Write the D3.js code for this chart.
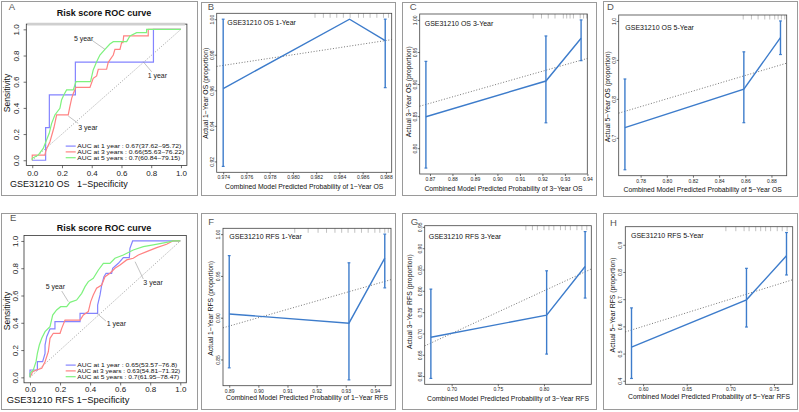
<!DOCTYPE html>
<html><head><meta charset="utf-8">
<script src="https://cdn.jsdelivr.net/npm/d3@7"></script>
<style>
body{margin:0;background:#fff}
svg{display:block}
text{font-family:"Liberation Sans",Arial,Helvetica,sans-serif}
</style></head>
<body><svg id="chart" width="799" height="412"></svg>
<script>
// ================= DATA =================
// ROC curves (1-specificity, sensitivity)
const rocOS_1yr = [[0,0],[0.09,0],[0.09,0.25],[0.115,0.25],[0.115,0.5],[0.29,0.5],[0.29,0.75],[0.815,0.75],[0.815,1],[1,1]];
const rocOS_3yr = [[0,0],[0,0.04],[0.085,0.04],[0.09,0.066],[0.103,0.104],[0.119,0.142],[0.146,0.25],[0.164,0.346],[0.242,0.346],[0.253,0.41],[0.265,0.473],[0.276,0.51],[0.294,0.557],[0.388,0.557],[0.41,0.626],[0.433,0.644],[0.444,0.695],[0.5,0.695],[0.511,0.748],[0.545,0.804],[0.556,0.847],[0.59,0.847],[0.601,0.898],[0.61,0.898],[0.615,0.95],[0.78,0.95],[0.78,1],[1,1]];
const rocOS_5yr = [[0,0],[0,0.015],[0.04,0.04],[0.074,0.09],[0.096,0.155],[0.114,0.206],[0.13,0.28],[0.152,0.346],[0.186,0.397],[0.197,0.46],[0.213,0.5],[0.231,0.537],[0.276,0.537],[0.294,0.6],[0.392,0.6],[0.41,0.69],[0.433,0.753],[0.455,0.804],[0.489,0.847],[0.522,0.888],[0.545,0.906],[0.635,0.906],[0.657,0.95],[0.702,0.975],[0.769,0.975],[0.769,1],[1,1]];
const rocRFS_1yr = [[0,0],[0,0.054],[0.049,0.054],[0.049,0.115],[0.084,0.115],[0.1,0.176],[0.1,0.237],[0.111,0.298],[0.133,0.355],[0.166,0.355],[0.166,0.408],[0.333,0.408],[0.333,0.469],[0.45,0.469],[0.45,0.53],[0.466,0.604],[0.477,0.677],[0.492,0.738],[0.506,0.763],[0.543,0.763],[0.55,0.8],[0.588,0.836],[0.621,0.878],[0.661,0.878],[0.665,0.946],[0.683,1],[1,1]];
const rocRFS_3yr = [[0,0],[0.018,0.042],[0.044,0.054],[0.078,0.066],[0.1,0.115],[0.122,0.188],[0.133,0.286],[0.155,0.323],[0.2,0.323],[0.211,0.359],[0.233,0.42],[0.333,0.42],[0.355,0.457],[0.388,0.482],[0.404,0.555],[0.421,0.604],[0.443,0.653],[0.477,0.677],[0.499,0.738],[0.532,0.763],[0.565,0.8],[0.599,0.824],[0.643,0.861],[0.687,0.873],[0.721,0.897],[0.776,0.922],[0.843,0.951],[0.909,0.976],[0.95,1],[1,1]];
const rocRFS_5yr = [[0,0],[0,0.03],[0.022,0.054],[0.04,0.115],[0.049,0.176],[0.062,0.237],[0.078,0.286],[0.1,0.335],[0.133,0.372],[0.151,0.457],[0.177,0.494],[0.204,0.518],[0.244,0.518],[0.266,0.55],[0.31,0.567],[0.344,0.616],[0.366,0.665],[0.388,0.702],[0.421,0.726],[0.455,0.787],[0.488,0.836],[0.532,0.836],[0.565,0.873],[0.621,0.897],[0.687,0.934],[0.754,0.958],[0.82,0.971],[0.909,0.99],[0.953,1],[1,1]];
const aucOS  = ["AUC at 1 year : 0.67(37.62\u221295.72)", "AUC at 3 years : 0.66(55.63\u221276.22)", "AUC at 5 years : 0.7(60.84\u221279.15)"];
const aucRFS = ["AUC at 1 year : 0.65(53.57\u221276.8)", "AUC at 3 years : 0.63(54.81\u221271.32)", "AUC at 5 years : 0.7(61.95\u221278.47)"];
const rocTicks = ["0.0","0.2","0.4","0.6","0.8","1.0"];
const yearNames = ["1 year","3 year","5 year"];

// Calibration: predicted, observed, lower CI, upper CI, rug of predictions
const calOS1_pred = [0.974, 0.98487, 0.98794];
const calOS1_obs  = [0.961, 1.0, 0.9879];
const calOS1_lo   = [0.9172, 1.0, 0.9615];
const calOS1_hi   = [1.0, 1.0, 1.0];
const calOS1_rug  = [0.9819,0.98262,0.9832,0.98377,0.98434,0.98492,0.98564,0.98607,0.98664,0.98722,0.98779,0.98822];
const calOS1_xt = ["0.974","0.976","0.978","0.980","0.982","0.984","0.986","0.988"];
const calOS1_yt = ["0.92","0.94","0.96","0.98","1.00"];

const calOS3_pred = [0.8682, 0.92156, 0.9372];
const calOS3_obs  = [0.849, 0.9047, 0.9714];
const calOS3_lo   = [0.769, 0.8396, 0.9365];
const calOS3_hi   = [0.9354, 0.975, 1.0];
const calOS3_rug  = [0.9159,0.9196,0.9226,0.9256,0.9293,0.9308,0.9323,0.9338,0.9368,0.9383,0.9397];
const calOS3_xt = ["0.87","0.88","0.89","0.90","0.91","0.92","0.93","0.94"];
const calOS3_yt = ["0.80","0.85","0.90","0.95","1.00"];

const calOS5_pred = [0.768, 0.8589, 0.8869];
const calOS5_obs  = [0.726, 0.825, 0.957];
const calOS5_lo   = [0.618, 0.7388, 0.9138];
const calOS5_hi   = [0.851, 0.9207, 1.0];
const calOS5_rug  = [0.8584,0.8647,0.8698,0.8749,0.8787,0.8825,0.8851,0.8876,0.8902];
const calOS5_xt = ["0.78","0.80","0.82","0.84","0.86","0.88"];
const calOS5_yt = ["0.7","0.8","0.9","1.0"];

const calRFS1_pred = [0.89, 0.9311, 0.9434];
const calRFS1_obs  = [0.9045, 0.8934, 0.9712];
const calRFS1_lo   = [0.840, 0.8256, 0.9357];
const calRFS1_hi   = [0.9743, 0.9657, 1.0];
const calRFS1_rug  = [0.9125,0.9171,0.9205,0.9234,0.9263,0.9286,0.9308,0.9331,0.9354,0.9377,0.94,0.9417,0.9434,0.9446];
const calRFS1_xt = ["0.89","0.90","0.91","0.92","0.93","0.94"];
const calRFS1_yt = ["0.85","0.90","0.95","1.00"];

const calRFS3_pred = [0.6775, 0.8029, 0.8446];
const calRFS3_obs  = [0.691, 0.743, 0.857];
const calRFS3_lo   = [0.5945, 0.6516, 0.783];
const calRFS3_hi   = [0.804, 0.847, 0.939];
const calRFS3_rug  = [0.7804,0.7875,0.7929,0.80,0.8054,0.8107,0.8179,0.8232,0.8286,0.8357,0.8411,0.8464];
const calRFS3_xt = ["0.70","0.75","0.80"];
const calRFS3_yt = ["0.60","0.65","0.70","0.75","0.80","0.85","0.90","0.95"];

const calRFS5_pred = [0.5867, 0.7185, 0.7644];
const calRFS5_obs  = [0.524, 0.6976, 0.8598];
const calRFS5_lo   = [0.4085, 0.5976, 0.789];
const calRFS5_hi   = [0.668, 0.8134, 0.945];
const calRFS5_rug  = [0.6949,0.7063,0.7158,0.7215,0.7291,0.7348,0.7405,0.7462,0.7538,0.7595,0.7651];
const calRFS5_xt = ["0.60","0.65","0.70","0.75"];
const calRFS5_yt = ["0.4","0.5","0.6","0.7","0.8","0.9"];

// ================= DRAW =================
const svg = d3.select("#chart");
const FONT = '"Liberation Sans",Arial,Helvetica,sans-serif';
const SERIF = '"Liberation Serif","Times New Roman",serif';
const rocColors = ["#8484ff", "#ff8282", "#7ef27e"];
const calBlue = "#3d7ccb";

// panel frames
const frames = [[1,1,197,195],[201,2,395,195],[402,2,596,195],[603,1,797,196],
                [1,213,197,409],[201,213,395,409],[402,213,596,409],[603,213,797,409]];
svg.selectAll("rect.frame").data(frames).join("rect").attr("class","frame")
  .attr("x", d=>d[0]+0.5).attr("y", d=>d[1]+0.5).attr("width", d=>d[2]-d[0]).attr("height", d=>d[3]-d[1])
  .attr("fill","none").attr("stroke","#9a9a9a").attr("stroke-width",1);

function letter(t, x, y){
  svg.append("text").attr("x",x).attr("y",y).attr("font-family",SERIF).attr("font-size",9.5)
    .attr("fill","#555").text(t);
}

function styleAxis(g, fs){
  g.attr("font-size", fs).attr("font-family", FONT);
  g.select(".domain").remove();
  g.selectAll("line").attr("stroke","#333").attr("stroke-width",0.7);
  g.selectAll("text").attr("fill","#222");
}
function rotateYTicks(g, k){
  g.selectAll(".tick text").attr("x", null).attr("dy", null).attr("text-anchor","middle")
    .attr("transform", `translate(${-k},0) rotate(-90)`);
}

function drawROC(p){
  const [l,t,r,b] = p.box;
  const x = d3.scaleLinear().domain([-0.04,1.04]).range([l,r]);
  const y = d3.scaleLinear().domain([-0.04,1.04]).range([b,t]);
  const g = svg.append("g");
  // diagonal
  g.append("line").attr("x1",x(0)).attr("y1",y(0)).attr("x2",x(1)).attr("y2",y(1))
    .attr("stroke","#888").attr("stroke-width",0.8).attr("stroke-dasharray","1,1.6");
  const line = d3.line().x(d=>x(d[0])).y(d=>y(d[1]));
  p.curves.forEach((c,i)=>{
    g.append("path").attr("d", line(c)).attr("fill","none").attr("stroke", rocColors[i]).attr("stroke-width",1.2);
  });
  // box
  g.append("rect").attr("x",l).attr("y",t).attr("width",r-l).attr("height",b-t)
    .attr("fill","none").attr("stroke","#333").attr("stroke-width",0.8);
  if (p.topBar) g.append("line").attr("x1",l+1).attr("x2",r-2).attr("y1",t).attr("y2",t)
    .attr("stroke","#cfcfcf").attr("stroke-width",2.6);
  // axes
  const tv = rocTicks.map(Number);
  const ax = g.append("g").attr("transform",`translate(0,${b})`)
    .call(d3.axisBottom(x).tickValues(tv).tickFormat((d,i)=>rocTicks[i]).tickSize(2.7).tickPadding(p.xpad));
  styleAxis(ax, 8);
  const ay = g.append("g").attr("transform",`translate(${l},0)`)
    .call(d3.axisLeft(y).tickValues(tv).tickFormat((d,i)=>rocTicks[i]).tickSize(2.7));
  styleAxis(ay, 8); rotateYTicks(ay, 2.7 + p.ypad);
  // title
  g.append("text").attr("x",p.titlePos[0]).attr("y",p.titlePos[1]).attr("text-anchor","middle")
    .attr("font-size",9).attr("font-weight","bold").attr("fill","#111").text("Risk score ROC curve");
  g.append("text").attr("transform",`translate(${p.ylabPos[0]},${p.ylabPos[1]}) rotate(-90)`)
    .attr("text-anchor","middle").attr("dominant-baseline","central").attr("font-size",8.5).attr("fill","#111").text("Sensitivity");
  g.append("text").attr("x",p.xlabPos[0]).attr("y",p.xlabPos[1]).attr("font-size",p.xlabFs)
    .style("white-space","pre").attr("fill","#111").text(p.xlab);
  // year labels with leader lines
  p.notes.forEach(n=>{
    g.append("line").attr("x1",x(n.from[0])).attr("y1",y(n.from[1])).attr("x2",x(n.to[0])).attr("y2",y(n.to[1]))
      .attr("stroke","#999").attr("stroke-width",0.6);
    g.append("text").attr("x",x(n.at[0])).attr("y",y(n.at[1])).attr("dominant-baseline","central")
      .attr("font-size",7).attr("fill","#222").text(n.text);
  });
  // legend (tight rows, as in the reference)
  p.legend.forEach((s,i)=>{
    const yy = p.legendY[i];
    g.append("line").attr("x1",65.7).attr("x2",75.7).attr("y1",yy).attr("y2",yy)
      .attr("stroke",rocColors[i]).attr("stroke-width",1.2);
    g.append("text").attr("x",77.3).attr("y",yy).attr("dominant-baseline","central")
      .attr("font-size",5.2).attr("textLength", p.legendW[i]).attr("lengthAdjust","spacingAndGlyphs")
      .attr("fill","#111").text(s);
  });
}

function drawCal(p){
  const [l,t,r,b] = p.box;
  const xe = d3.extent(p.pred), xp = (xe[1]-xe[0])*0.04;
  const ye = d3.extent(p.lo.concat(p.hi)), yp = (ye[1]-ye[0])*0.04;
  const x = d3.scaleLinear().domain([xe[0]-xp, xe[1]+xp]).range([l,r]);
  const y = d3.scaleLinear().domain([ye[0]-yp, ye[1]+yp]).range([b,t]);
  const g = svg.append("g");
  // ideal line (dotted)
  const d0 = Math.max(x.domain()[0], y.domain()[0]), d1 = Math.min(x.domain()[1], y.domain()[1]);
  g.append("line").attr("x1",x(d0)).attr("y1",y(d0)).attr("x2",x(d1)).attr("y2",y(d1))
    .attr("stroke","#666").attr("stroke-width",0.9).attr("stroke-dasharray","1,1.8");
  // rug
  g.selectAll("line.rug").data(p.rug).join("line").attr("class","rug")
    .attr("x1",d=>x(d)).attr("x2",d=>x(d)).attr("y1",t).attr("y2",t+4.5)
    .attr("stroke","#999").attr("stroke-width",0.6);
  // error bars
  p.pred.forEach((v,i)=>{
    if (p.lo[i] === p.hi[i]) return;
    const xx = x(v);
    g.append("line").attr("x1",xx).attr("x2",xx).attr("y1",y(p.lo[i])).attr("y2",y(p.hi[i]))
      .attr("stroke",calBlue).attr("stroke-width",1.4);
    [p.lo[i], p.hi[i]].forEach(e=>{
      g.append("line").attr("x1",xx-1.4).attr("x2",xx+1.4).attr("y1",y(e)).attr("y2",y(e))
        .attr("stroke",calBlue).attr("stroke-width",1.2);
    });
  });
  // calibration line
  const pts = p.pred.map((v,i)=>[v,p.obs[i]]);
  g.append("path").attr("d", d3.line().x(d=>x(d[0])).y(d=>y(d[1]))(pts))
    .attr("fill","none").attr("stroke",calBlue).attr("stroke-width",1.4);
  // box
  g.append("rect").attr("x",l).attr("y",t).attr("width",r-l).attr("height",b-t)
    .attr("fill","none").attr("stroke","#444").attr("stroke-width",0.8);
  // axes
  const ax = g.append("g").attr("transform",`translate(0,${b})`)
    .call(d3.axisBottom(x).tickValues(p.xt.map(Number)).tickFormat((d,i)=>p.xt[i]).tickSize(2).tickPadding(1.3));
  styleAxis(ax, 5);
  const ay = g.append("g").attr("transform",`translate(${l},0)`)
    .call(d3.axisLeft(y).tickValues(p.yt.map(Number)).tickFormat((d,i)=>p.yt[i]).tickSize(2));
  styleAxis(ay, 5); rotateYTicks(ay, 3.2);
  // texts
  g.append("text").attr("x",p.titlePos[0]).attr("y",p.titlePos[1]).attr("font-size",7).attr("fill","#111").text(p.title);
  g.append("text").attr("x",(l+r)/2).attr("y",p.xlabY).attr("text-anchor","middle").attr("font-size",6.8).attr("fill","#111").text(p.xlab);
  g.append("text").attr("transform",`translate(${p.ylabPos[0]},${p.ylabPos[1]}) rotate(-90)`)
    .attr("text-anchor","middle").attr("dominant-baseline","central").attr("font-size",6.8).attr("fill","#111").text(p.ylab);
}

// ROC panels
drawROC({box:[26.3,24.1,186.9,165.5], topBar:true, xpad:2, ypad:4.8,
  curves:[rocOS_1yr, rocOS_3yr, rocOS_5yr], legend:aucOS, legendY:[146.1,151.9,157.7], legendW:[104,107,103],
  titlePos:[104,15.8], ylabPos:[7,93], xlabPos:[10,186.5], xlabFs:9, xlab:"GSE31210 OS   1\u2212Specificity",
  notes:[{text:yearNames[2], at:[0.28,0.931], from:[0.406,0.913], to:[0.489,0.847]},
         {text:yearNames[0], at:[0.776,0.644], from:[0.746,0.753], to:[0.803,0.676]},
         {text:yearNames[1], at:[0.309,0.252], from:[0.309,0.282], to:[0.242,0.338]}]});
drawROC({box:[24,235.5,186.3,382.8], topBar:false, xpad:1.3, ypad:3.5,
  curves:[rocRFS_1yr, rocRFS_3yr, rocRFS_5yr], legend:aucRFS, legendY:[365.1,370.9,376.7], legendW:[100,103,102],
  titlePos:[104,230.7], ylabPos:[7.3,311], xlabPos:[6.7,403], xlabFs:9.4, xlab:"GSE31210 RFS 1\u2212Specificity",
  notes:[{text:yearNames[2], at:[0.104,0.665], from:[0.211,0.633], to:[0.255,0.555]},
         {text:yearNames[1], at:[0.754,0.694], from:[0.754,0.721], to:[0.699,0.848]},
         {text:yearNames[0], at:[0.51,0.396], from:[0.505,0.413], to:[0.444,0.47]}]});

// Calibration panels
drawCal({box:[216.7,13.3,391.7,172.3], pred:calOS1_pred, obs:calOS1_obs, lo:calOS1_lo, hi:calOS1_hi, rug:calOS1_rug,
  xt:calOS1_xt, yt:calOS1_yt, title:"GSE31210 OS 1-Year", titlePos:[227.3,25],
  xlab:"Combined Model Predicted Probability of 1\u2212Year OS", xlabY:189,
  ylab:"Actual 1\u2212Year OS (proportion)", ylabPos:[205,93.3]});
drawCal({box:[419.7,14,587.3,174], pred:calOS3_pred, obs:calOS3_obs, lo:calOS3_lo, hi:calOS3_hi, rug:calOS3_rug,
  xt:calOS3_xt, yt:calOS3_yt, title:"GSE31210 OS 3-Year", titlePos:[424.7,26],
  xlab:"Combined Model Predicted Probability of 3\u2212Year OS", xlabY:190.7,
  ylab:"Actual 3\u2212Year OS (proportion)", ylabPos:[408,91.7]});
drawCal({box:[618.7,15,786.7,175.7], pred:calOS5_pred, obs:calOS5_obs, lo:calOS5_lo, hi:calOS5_hi, rug:calOS5_rug,
  xt:calOS5_xt, yt:calOS5_yt, title:"GSE31210 OS 5-Year", titlePos:[625.3,29.7],
  xlab:"Combined Model Predicted Probability of 5\u2212Year OS", xlabY:191.7,
  ylab:"Actual 5\u2212Year OS (proportion)", ylabPos:[607.7,96.7]});
drawCal({box:[223,228.3,391,385.7], pred:calRFS1_pred, obs:calRFS1_obs, lo:calRFS1_lo, hi:calRFS1_hi, rug:calRFS1_rug,
  xt:calRFS1_xt, yt:calRFS1_yt, title:"GSE31210 RFS 1-Year", titlePos:[229.3,239.3],
  xlab:"Combined Model Predicted Probability of 1\u2212Year RFS", xlabY:400,
  ylab:"Actual 1\u2212Year RFS (proportion)", ylabPos:[210,308.3]});
drawCal({box:[424.7,225.7,591.3,384.3], pred:calRFS3_pred, obs:calRFS3_obs, lo:calRFS3_lo, hi:calRFS3_hi, rug:calRFS3_rug,
  xt:calRFS3_xt, yt:calRFS3_yt, title:"GSE31210 RFS 3-Year", titlePos:[428.7,239.3],
  xlab:"Combined Model Predicted Probability of 3\u2212Year RFS", xlabY:401,
  ylab:"Actual 3\u2212Year RFS (proportion)", ylabPos:[409.7,301.7]});
drawCal({box:[625.3,226.7,792.7,384.3], pred:calRFS5_pred, obs:calRFS5_obs, lo:calRFS5_lo, hi:calRFS5_hi, rug:calRFS5_rug,
  xt:calRFS5_xt, yt:calRFS5_yt, title:"GSE31210 RFS 5-Year", titlePos:[631,237.7],
  xlab:"Combined Model Predicted Probability of 5\u2212Year RFS", xlabY:399.3,
  ylab:"Actual 5\u2212Year RFS (proportion)", ylabPos:[612.7,305]});

// panel letters
const letterPos = [[8.7,10],[207.7,9.5],[409.7,10],[607,10],[10,221],[208.3,225],[410.7,225],[610,225.7]];
letterPos.forEach((pos,i)=>letter("ABCDEFGH"[i], pos[0], pos[1]));
</script>
</body></html>
